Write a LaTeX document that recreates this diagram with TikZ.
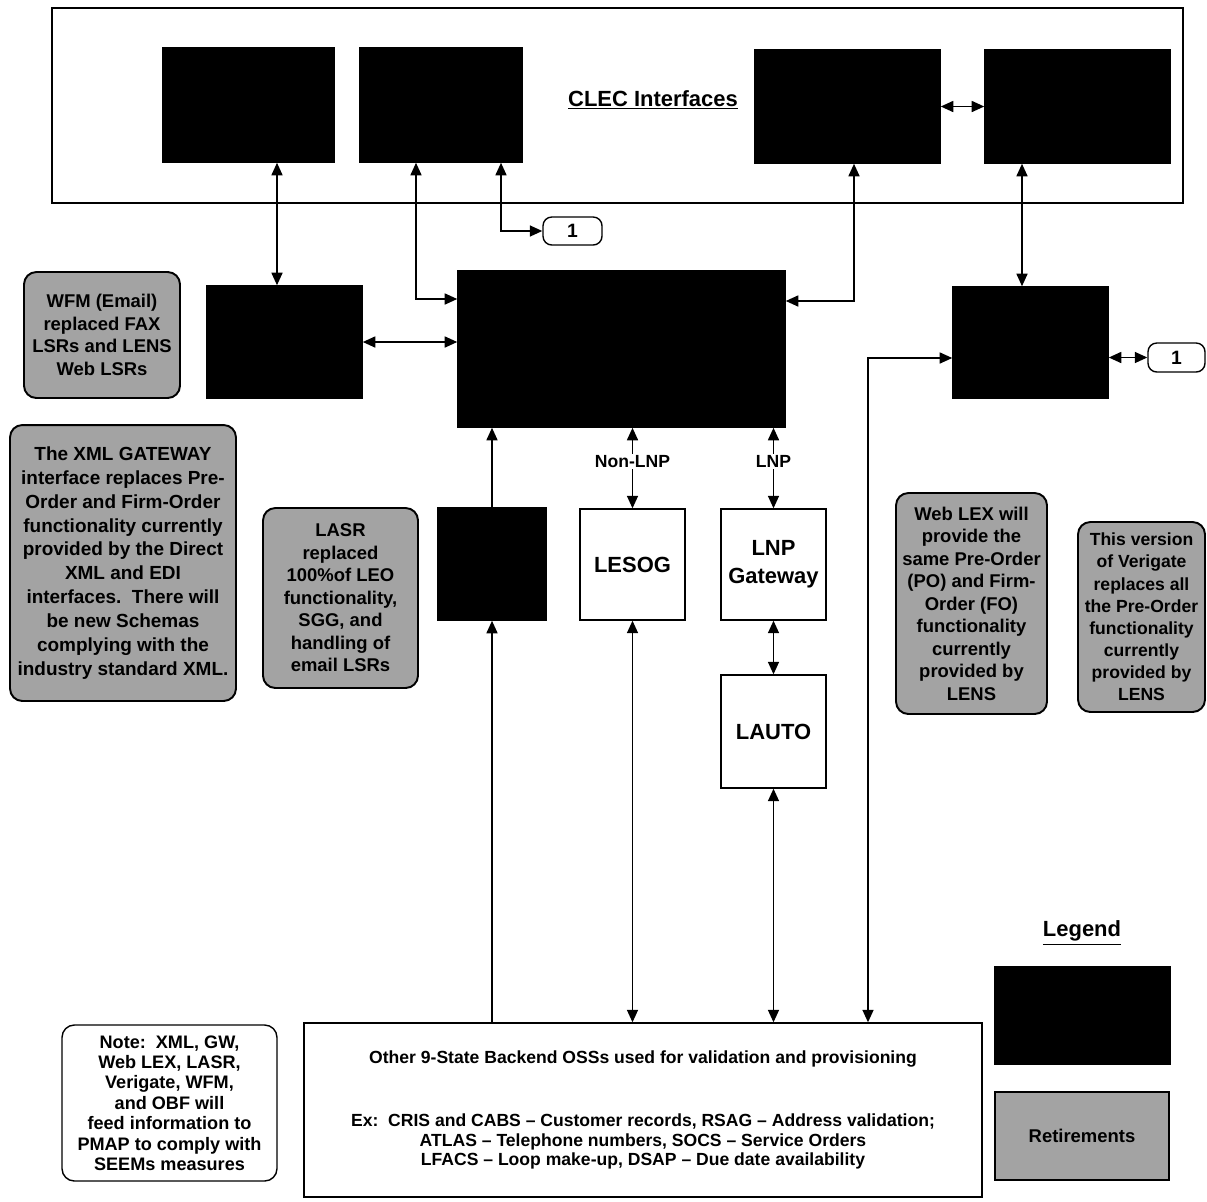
\documentclass[tikz,border=0pt]{standalone}
\usepackage{fontspec}
\setmainfont{Liberation Sans}
\usepackage{tikz}
\usetikzlibrary{arrows.meta}
\usetikzlibrary{calc}

\begin{document}
\begin{tikzpicture}[x=0.02cm, y=-0.02cm, line width=0.9pt,
        >={Triangle[length=2.5mm,width=2.2mm]},
        frame_box/.style={rectangle,draw=black,fill=white,line width=0.8pt,inner sep=0pt},
        black_box/.style={rectangle,draw=black,fill=black,inner sep=0pt},
        white_box/.style={rectangle,draw=black,fill=white,line width=0.8pt,inner sep=2pt,align=center,font=\bfseries\fontsize{12.5}{16}\selectfont},
        wide_box/.style={rectangle,draw=black,fill=white,line width=0.8pt,align=center,font=\bfseries\fontsize{10}{11}\selectfont},
        gray_note/.style={rectangle,rounded corners=7pt,draw=black,line width=1.1pt,fill=black!36,inner sep=2pt,align=center,font=\bfseries\fontsize{10.5}{12.8}\selectfont},
        white_note/.style={rectangle,rounded corners=7pt,draw=black,line width=0.8pt,fill=white,inner sep=2pt,align=center,font=\bfseries\fontsize{10.3}{11.6}\selectfont},
        link_style/.style={rectangle,rounded corners=5pt,draw=black,line width=0.8pt,fill=white,inner sep=0pt,font=\bfseries\fontsize{11}{13}\selectfont},
        title_style/.style={font=\bfseries\fontsize{12.5}{15}\selectfont},
        label_style/.style={fill=white,inner sep=1pt,font=\bfseries\fontsize{10}{12}\selectfont},
        edge_style/.style={draw=black, line width=0.9pt, <->},
        one_way_style/.style={draw=black, line width=0.9pt, ->}]

        \useasboundingbox (0,0) rectangle (1207,1201);

        \node [frame_box,minimum width=22.62cm,minimum height=3.9cm](clec) at (617.5,105.5) {};

        \node [title_style](cleclabel) at (653,100) {\underline{CLEC Interfaces}};

        \node [black_box,minimum width=3.42cm,minimum height=2.28cm](b1) at (248.5,105) {};

        \node [black_box,minimum width=3.24cm,minimum height=2.28cm](b2) at (441,105) {};

        \node [black_box,minimum width=3.7cm,minimum height=2.26cm](b3) at (847.5,106.5) {};

        \node [black_box,minimum width=3.7cm,minimum height=2.26cm](b4) at (1077.5,106.5) {};

        \node [black_box,minimum width=3.1cm,minimum height=2.24cm](wfm) at (284.5,342) {};

        \node [black_box,minimum width=6.54cm,minimum height=3.12cm](gw) at (621.5,349) {};

        \node [black_box,minimum width=3.1cm,minimum height=2.22cm](weblex) at (1030.5,342.5) {};

        \node [black_box,minimum width=2.16cm,minimum height=2.24cm](lasr) at (492,564) {};

        \node [white_box,minimum width=2.1cm,minimum height=2.22cm](lesog) at (632.5,564.5) {LESOG};

        \node [white_box,minimum width=2.1cm,minimum height=2.22cm](lnpgw) at (773.5,564.5) {LNP\\Gateway};

        \node [white_box,minimum width=2.1cm,minimum height=2.26cm](lauto) at (773.5,731.5) {LAUTO};

        \node [wide_box,minimum width=13.56cm,minimum height=3.48cm](oss) at (643,1110) {Other 9-State Backend OSSs used for validation and provisioning\\[0.88cm]Ex:~~CRIS and CABS -- Customer records, RSAG -- Address validation;\\ATLAS -- Telephone numbers, SOCS -- Service Orders\\LFACS -- Loop make-up, DSAP -- Due date availability};

        \node [link_style,minimum width=1.18cm,minimum height=0.56cm](onea) at (572.5,231) {1};

        \node [link_style,minimum width=1.14cm,minimum height=0.58cm](oneb) at (1176.5,357.5) {1};

        \node [gray_note,minimum width=3.12cm,minimum height=2.52cm](wfmnote) at (102,335) {WFM (Email)\\replaced FAX\\LSRs and LENS\\Web LSRs};

        \node [gray_note,font=\bfseries\fontsize{10.8}{13.6}\selectfont,minimum width=4.52cm,minimum height=5.52cm](xmlnote) at (123,563) {The XML GATEWAY\\interface replaces Pre-\\Order and Firm-Order\\functionality currently\\provided by the Direct\\XML and EDI\\interfaces.~~There will\\be new Schemas\\complying with the\\industry standard XML.};

        \node [gray_note,minimum width=3.1cm,minimum height=3.6cm](lasrnote) at (340.5,598) {LASR\\replaced\\100\%of LEO\\functionality,\\SGG, and\\handling of\\email LSRs};

        \node [gray_note,minimum width=3.02cm,minimum height=4.42cm](weblexnote) at (971.5,603.5) {Web LEX will\\provide the\\same Pre-Order\\(PO) and Firm-\\Order (FO)\\functionality\\currently\\provided by\\LENS};

        \node [gray_note,font=\bfseries\fontsize{10}{12.6}\selectfont,minimum width=2.54cm,minimum height=3.8cm](verinote) at (1141.5,617) {This version\\of Verigate\\replaces all\\the Pre-Order\\functionality\\currently\\provided by\\LENS};

        \node [white_note,minimum width=4.3cm,minimum height=3.12cm](seemsnote) at (169.5,1103) {Note:~~XML, GW,\\Web LEX, LASR,\\Verigate, WFM,\\and OBF will\\feed information to\\PMAP to comply with\\SEEMs measures};

        \node [title_style](legendtitle) at (1082,933) {\underline{Legend}};

        \node [black_box,minimum width=3.5cm,minimum height=1.94cm](legblack) at (1082.5,1015.5) {};

        \node [gray_note,rounded corners=0pt,minimum width=3.48cm,minimum height=1.76cm](legretire) at (1082,1136) {Retirements};

        \coordinate (col_a) at (277,300);

        \coordinate (col_b) at (1022,200);

        \coordinate (bend_a) at (416,299);

        \coordinate (bend_b) at (501,231);

        \coordinate (bend_c) at (854,301);

        \coordinate (bend_d) at (868,358);

        \draw [edge_style] (b1.south -| col_a) -- (wfm.north -| col_a);

        \draw [edge_style] (wfm.east) -- (wfm.east -| gw.west);

        \draw [edge_style] (b2.south -| bend_a) -- (bend_a) -- (bend_a -| gw.west);

        \draw [edge_style] (b2.south -| bend_b) -- (bend_b) -- (onea.west);

        \draw [edge_style] (b3.south -| bend_c) -- (bend_c) -- (bend_c -| gw.east);

        \draw [edge_style] (b3.east) -- (b4.west);

        \draw [edge_style] (b4.south -| col_b) -- (weblex.north -| col_b);

        \draw [edge_style] (weblex.east |- oneb.west) -- (oneb.west);

        \draw [edge_style] (oss.north -| bend_d) -- (bend_d) -- (bend_d -| weblex.west);

        \draw [one_way_style] (lasr.north) -- (lasr.north |- gw.south);

        \draw [one_way_style] (oss.north -| lasr.south) -- (lasr.south);

        \draw [edge_style] (gw.south -| lesog.north) -- node[label_style,pos=0.42]{Non-LNP} (lesog.north);

        \draw [edge_style] (gw.south -| lnpgw.north) -- node[label_style,pos=0.42]{LNP} (lnpgw.north);

        \draw [edge_style] (lnpgw.south) -- (lauto.north);

        \draw [edge_style] (lauto.south) -- (oss.north -| lauto.south);

        \draw [edge_style] (lesog.south) -- (oss.north -| lesog.south);

\end{tikzpicture}
\end{document}
